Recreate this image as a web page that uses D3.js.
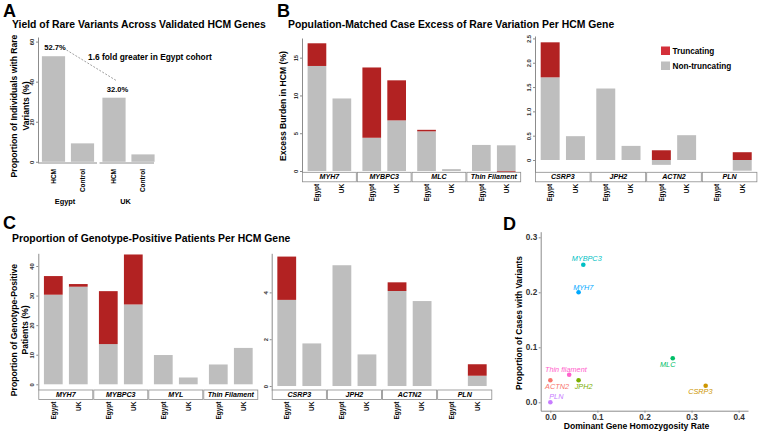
<!DOCTYPE html>
<html>
<head>
<meta charset="utf-8">
<script src="https://cdn.jsdelivr.net/npm/d3@7"></script>
<style>
  body { margin: 0; background: #fff; }
  svg { font-family: "Liberation Sans", Arial, sans-serif; }
  .axis path, .axis line { stroke: #8c8c8c; }
  .axis text { font-weight: bold; fill: #333; }
</style>
</head>
<body>
<svg id="fig" width="760" height="432"></svg>
<script>
// ---- data ----
const cohorts = ["Egypt", "UK"]
const yieldGroups = ["HCM", "Control"]
const yieldEgypt = [52.7, 9.2]
const yieldUK = [32.0, 3.7]
const yieldTicks = [0, 20, 40, 60]

const burdenGenesLeft = ["MYH7", "MYBPC3", "MLC", "Thin Filament"]
const burdenGenesRight = ["CSRP3", "JPH2", "ACTN2", "PLN"]
// one value per gene: left genes first, then right genes
const burdenNonTruncEgypt = [13.9, 4.4, 5.25, 3.45, 1.70, 1.47, -0.1, 0]
const burdenTruncEgypt = [3.0, 9.3, 0.2, 0, 0.72, 0, 0.2, 0]
const burdenNonTruncUK = [9.6, 6.7, 0.25, 3.4, 0.49, 0.29, 0.51, -0.22]
const burdenTruncUK = [0, 5.3, 0, -0.1, 0, 0, 0, 0.16]
const burdenTicksLeft = [0, 5, 10, 15]
const burdenTicksRight = [0, 0.5, 1.0, 1.5, 2.0, 2.5]

const positiveGenesLeft = ["MYH7", "MYBPC3", "MYL", "Thin Filament"]
const positiveGenesRight = ["CSRP3", "JPH2", "ACTN2", "PLN"]
const positiveNonTruncEgypt = [30.3, 13.6, 9.9, 6.7, 3.68, 5.16, 4.06, 0]
const positiveTruncEgypt = [6.3, 17.9, 0, 0, 1.85, 0, 0.37, 0]
const positiveNonTruncUK = [33.0, 27.0, 2.3, 12.3, 1.82, 1.35, 3.63, 0.44]
const positiveTruncUK = [0.9, 16.9, 0, 0, 0, 0, 0, 0.49]
const positiveTicksLeft = [0, 10, 20, 30, 40]
const positiveTicksRight = [0, 2, 4]

const scatterGenes = ["ACTN2", "CSRP3", "JPH2", "MLC", "MYBPC3", "MYH7", "PLN", "Thin filament"]
const homozygosityRate = [0, 0.33, 0.06, 0.26, 0.07, 0.06, 0, 0.04]
const caseProportion = [0.04, 0.03, 0.04, 0.08, 0.25, 0.20, 0, 0.05]
const scatterTicksX = [0, 0.1, 0.2, 0.3, 0.4]
const scatterTicksY = [0, 0.1, 0.2, 0.3]

// ---- drawing ----
const GREY = "#bebebe"
const RED = "#b22222"
const svg = d3.select("#fig")

function letter(x, y, t) {
    svg.append("text").attr("x", x).attr("y", y)
        .attr("font-size", 18).attr("font-weight", "bold").text(t)
}

function title(g, x, y, t) {
    g.append("text").attr("x", x).attr("y", y)
        .attr("font-size", 10.4).attr("font-weight", "bold").text(t)
}

/* rotated (multi-line) axis title, centred on cx/cy */
function yTitle(g, lines, cx, cy, size, gap) {
    lines.forEach((line, i) => {
        const bx = cx + (i - (lines.length - 1) / 2) * gap + size * 0.35
        g.append("text")
            .attr("transform", `translate(${bx},${cy}) rotate(-90)`)
            .attr("text-anchor", "middle")
            .attr("font-size", size).attr("font-weight", "bold")
            .text(line)
    })
}

/* left axis with small rotated tick labels, as in the bar panels */
function barAxis(g, y, x, ticks, fmt) {
    g.append("g").attr("class", "axis")
        .attr("transform", `translate(${x},0)`)
        .call(d3.axisLeft(y).tickValues(ticks).tickSize(2).tickSizeOuter(0).tickFormat(fmt || d3.format("d")))
        .call(a => a.attr("font-family", null).attr("font-size", null))
        .call(a => a.selectAll("text")
            .attr("x", 0).attr("dy", null)
            .attr("text-anchor", "middle")
            .attr("font-size", 5.8)
            .attr("transform", "translate(-4,0) rotate(-90)"))
}

/* stack non-truncating then truncating; negatives go down from zero */
function segments(nt, tr) {
    let pos = 0, neg = 0
    return [[nt, GREY], [tr, RED]].map(([v, col]) => {
        let a, b
        if (v >= 0) { a = pos; b = pos + v; pos = b }
        else { a = neg; b = neg + v; neg = b }
        return { a, b, col }
    }).filter(s => s.a !== s.b)
}

/* one faceted half of panel B or C */
function facetBars(g, genes, offset, series, y, x0, fw, stripTop) {
    const stripH = 9.5
    genes.forEach((gene, i) => {
        const left = x0 + i * fw
        const x = d3.scaleBand().domain(cohorts)
            .range([left, left + fw]).paddingInner(0.25).paddingOuter(0.225)
        cohorts.forEach(c => {
            const s = segments(series[c][0][offset + i], series[c][1][offset + i])
            g.selectAll(null).data(s).enter().append("rect")
                .attr("x", x(c)).attr("width", x.bandwidth())
                .attr("y", d => y(Math.max(d.a, d.b)))
                .attr("height", d => Math.abs(y(d.a) - y(d.b)))
                .attr("fill", d => d.col)
            const lx = x(c) + x.bandwidth() / 2 + 2.3
            g.append("text")
                .attr("transform", `translate(${lx},${stripTop + stripH + 2}) rotate(-90)`)
                .attr("text-anchor", "end")
                .attr("font-size", 6.5).attr("font-weight", "bold")
                .text(c)
        })
        g.append("rect")
            .attr("x", left + 0.5).attr("y", stripTop)
            .attr("width", fw - 1).attr("height", stripH)
            .attr("fill", "#fff").attr("stroke", "#8c8c8c").attr("stroke-width", 0.8)
        g.append("text")
            .attr("x", left + fw / 2).attr("y", stripTop + 7)
            .attr("text-anchor", "middle")
            .attr("font-size", 7.1).attr("font-weight", "bold").attr("font-style", "italic")
            .text(gene)
    })
}

// ---- panel A ----
const gA = svg.append("g")
letter(3, 17, "A")
title(gA, 12, 28, "Yield of Rare Variants Across Validated HCM Genes")
const yA = d3.scaleLinear().domain([-0.6, 62.3]).range([163, 37])
barAxis(gA, yA, 38, yieldTicks)
yTitle(gA, ["Proportion of Individuals with Rare", "Variants (%)"], 20, 106, 8.6, 11.5)

const yieldByCohort = { Egypt: yieldEgypt, UK: yieldUK }
const cohortRange = { Egypt: [39, 97], UK: [99.5, 157.5] }
cohorts.forEach(c => {
    const [r0, r1] = cohortRange[c]
    const x = d3.scaleBand().domain(yieldGroups).range([r0, r1]).paddingInner(0.2).paddingOuter(0.1)
    gA.selectAll(null).data(yieldGroups).enter().append("rect")
        .attr("x", d => x(d)).attr("width", x.bandwidth())
        .attr("y", (d, i) => yA(yieldByCohort[c][i]))
        .attr("height", (d, i) => yA(0) - yA(yieldByCohort[c][i]))
        .attr("fill", GREY)
    gA.append("line").attr("x1", r0).attr("x2", c === "UK" ? 154 : r1)
        .attr("y1", 163).attr("y2", 163).attr("stroke", "#8c8c8c")
    yieldGroups.forEach(d => {
        gA.append("text")
            .attr("transform", `translate(${x(d) + x.bandwidth() / 2 + 2.3},169) rotate(-90)`)
            .attr("text-anchor", "end").attr("font-size", 6.5).attr("font-weight", "bold")
            .text(d)
    })
    gA.append("text").attr("x", (r0 + r1) / 2 - 3).attr("y", 204)
        .attr("text-anchor", "middle").attr("font-size", 7.4).attr("font-weight", "bold")
        .text(c)
})
gA.append("text").attr("x", 55).attr("y", 50).attr("text-anchor", "middle")
    .attr("font-size", 7.6).attr("font-weight", "bold").text(d3.format(".1f")(yieldEgypt[0]) + "%")
gA.append("text").attr("x", 117.5).attr("y", 91.5).attr("text-anchor", "middle")
    .attr("font-size", 7.6).attr("font-weight", "bold").text(d3.format(".1f")(yieldUK[0]) + "%")
gA.append("line").attr("x1", 66.5).attr("y1", 50).attr("x2", 117).attr("y2", 81)
    .attr("stroke", "#777").attr("stroke-width", 0.7).attr("stroke-dasharray", "2,1.5")
gA.append("text").attr("x", 88).attr("y", 60)
    .attr("font-size", 8.4).attr("font-weight", "bold").text("1.6 fold greater in Egypt cohort")

// ---- panel B ----
svg.append("clipPath").attr("id", "clipB")
    .append("rect").attr("x", 240).attr("y", 0).attr("width", 520).attr("height", 201)
const gB = svg.append("g").attr("clip-path", "url(#clipB)")
letter(277, 17, "B")
title(gB, 288, 28, "Population-Matched Case Excess of Rare Variation Per HCM Gene")
const burdenSeries = {
    Egypt: [burdenNonTruncEgypt, burdenTruncEgypt],
    UK: [burdenNonTruncUK, burdenTruncUK]
}
const yB1 = d3.scaleLinear().domain([-0.17, 17.6]).range([172.3, 38])
const yB2 = d3.scaleLinear().domain([-0.253, 2.55]).range([172.3, 36])
barAxis(gB, yB1, 302, burdenTicksLeft)
barAxis(gB, yB2, 535, burdenTicksRight, d => d === 0 ? "0" : d3.format(".1f")(d))
yTitle(gB, ["Excess Burden in HCM (%)"], 283, 106, 8.6, 11)
facetBars(gB, burdenGenesLeft, 0, burdenSeries, yB1, 302, 54.8, 172.3)
facetBars(gB, burdenGenesRight, 4, burdenSeries, yB2, 535, 55.6, 172.3)

const legend = gB.append("g").attr("transform", "translate(661,46.5)")
const legendItems = [["Truncating", "#d4303a"], ["Non-truncating", GREY]]
legendItems.forEach(([name, col], i) => {
    legend.append("rect").attr("x", 0).attr("y", i * 15).attr("width", 9).attr("height", 8.5).attr("fill", col)
    legend.append("text").attr("x", 11.5).attr("y", i * 15 + 7.5)
        .attr("font-size", 8.2).attr("font-weight", "bold").text(name)
})

// ---- panel C ----
const gC = svg.append("g")
letter(3, 229, "C")
title(gC, 12, 241.5, "Proportion of Genotype-Positive Patients Per HCM Gene")
const positiveSeries = {
    Egypt: [positiveNonTruncEgypt, positiveTruncEgypt],
    UK: [positiveNonTruncUK, positiveTruncUK]
}
const yC1 = d3.scaleLinear().domain([-1.93, 44.3]).range([390, 253.3])
const yC2 = d3.scaleLinear().domain([-0.17, 5.67]).range([390, 253.3])
barAxis(gC, yC1, 38.3, positiveTicksLeft)
barAxis(gC, yC2, 271.7, positiveTicksRight)
yTitle(gC, ["Proportion of Genotype-Positive", "Patients (%)"], 19.5, 330, 8.6, 11.5)
facetBars(gC, positiveGenesLeft, 0, positiveSeries, yC1, 38.3, 55, 390)
facetBars(gC, positiveGenesRight, 4, positiveSeries, yC2, 271.7, 55.15, 390)

// ---- panel D ----
const gD = svg.append("g")
letter(503, 230, "D")
const xD = d3.scaleLinear().domain([-0.0205, 0.4199]).range([540.7, 748])
const yD = d3.scaleLinear().domain([-0.0153, 0.3102]).range([410.7, 231.7])
const geneColour = d3.scaleOrdinal().domain(scatterGenes)
    .range(["#F8766D", "#CD9600", "#7CAE00", "#00BE67", "#00BFC4", "#00A9FF", "#C77CFF", "#FF61CC"])

gD.append("g").attr("class", "axis").attr("transform", "translate(0,410.7)")
    .call(d3.axisBottom(xD).tickValues(scatterTicksX).tickSize(2).tickSizeOuter(0).tickPadding(1.5).tickFormat(d3.format(".1f")))
    .call(a => a.attr("font-family", null).attr("font-size", 8.2))
    .call(a => a.selectAll("text").attr("fill", "#111"))
gD.append("g").attr("class", "axis").attr("transform", "translate(540.7,0)")
    .call(d3.axisLeft(yD).tickValues(scatterTicksY).tickSize(2).tickSizeOuter(0).tickPadding(1.5).tickFormat(d3.format(".1f")))
    .call(a => a.attr("font-family", null).attr("font-size", 8.2))
    .call(a => a.selectAll("text").attr("fill", "#111"))
gD.append("text").attr("x", 636.5).attr("y", 429).attr("text-anchor", "middle")
    .attr("font-size", 8.6).attr("font-weight", "bold").text("Dominant Gene Homozygosity Rate")
yTitle(gD, ["Proportion of Cases with Variants"], 519, 323, 8.4, 11)

// label nudges in pixels (dx, dy to baseline centre)
const labelNudge = {
    "ACTN2": [6.7, 9], "CSRP3": [-5.3, 8], "JPH2": [5, 9], "MLC": [-5, 9],
    "MYBPC3": [3.4, -3.5], "MYH7": [4.7, -2.5], "PLN": [6, -3], "Thin filament": [-3.3, -3]
}
const pts = scatterGenes.map((g, i) => ({ gene: g, x: homozygosityRate[i], y: caseProportion[i] }))
gD.selectAll("circle").data(pts).enter().append("circle")
    .attr("cx", d => xD(d.x)).attr("cy", d => yD(d.y)).attr("r", 2.3)
    .attr("fill", d => geneColour(d.gene))
gD.selectAll(".plabel").data(pts).enter().append("text")
    .attr("class", "plabel")
    .attr("x", d => xD(d.x) + labelNudge[d.gene][0])
    .attr("y", d => yD(d.y) + labelNudge[d.gene][1])
    .attr("text-anchor", "middle").attr("font-size", 7.3).attr("font-style", "italic")
    .attr("fill", d => geneColour(d.gene))
    .text(d => d.gene)
</script>
</body>
</html>
